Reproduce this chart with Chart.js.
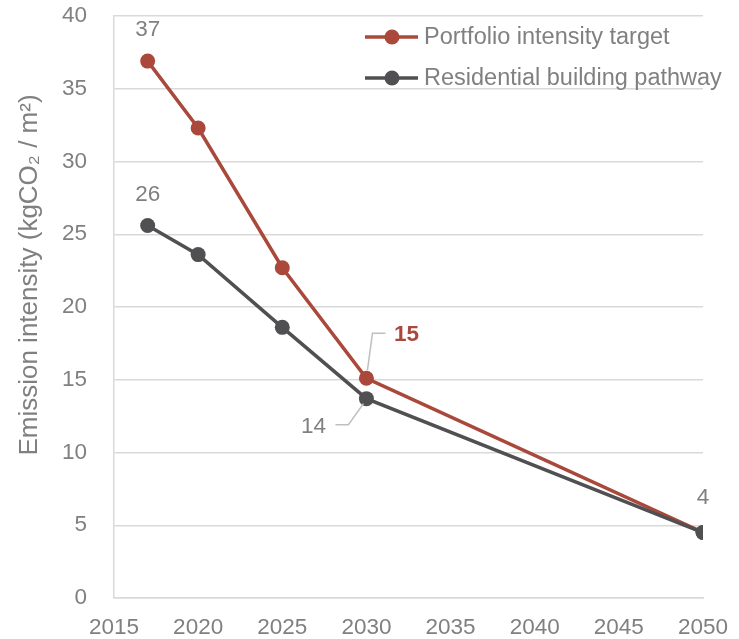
<!DOCTYPE html>
<html>
<head>
<meta charset="utf-8">
<script src="https://cdn.jsdelivr.net/npm/chart.js@4.4.0/dist/chart.umd.min.js"></script>
<style>
  html, body { margin: 0; padding: 0; background: #fff; }
  #wrap { width: 739px; height: 639px; }
</style>
</head>
<body>
<div id="wrap"><canvas id="emissionChart" width="739" height="639"></canvas></div>
<script>
// chart values
var years = [2017, 2020, 2025, 2030, 2050];
var portfolioTarget = [36.9, 32.3, 22.7, 15.1, 4.5];
var residentialPathway = [25.6, 23.6, 18.6, 13.7, 4.5];
var seriesNames = ["Portfolio intensity target", "Residential building pathway"];
var xTicks = [2015, 2020, 2025, 2030, 2035, 2040, 2045, 2050];
var yTicks = [0, 5, 10, 15, 20, 25, 30, 35, 40];
var yTitle = "Emission intensity (kgCO\u2082 / m\u00B2)";
// labels shown next to points: [series, point index, text]
var pointLabels = [
    [0, 0, "37"],
    [1, 0, "26"],
    [0, 3, "15"],
    [1, 3, "14"],
    [1, 4, "4"]
];

const redColor = "#A9483B";
const greyColor = "#505053";
const textColor = "#808080";
const font = "'Liberation Sans', Arial, sans-serif";

function toPoints(vals) {
    return years.map(function(y, i) { return {x: y, y: vals[i]}; });
}

// draws the value labels and the leader lines
const labelPlugin = {
    id: 'point_labels',
    afterDatasetsDraw: (chart) => {
        const {ctx} = chart;
        ctx.save();
        ctx.font = "22.5px " + font;
        ctx.textAlign = "center";
        ctx.textBaseline = "middle";
        ctx.strokeStyle = "#BFBFBF";
        ctx.lineWidth = 1.5;
        pointLabels.forEach(function(l) {
            var p = chart.getDatasetMeta(l[0]).data[l[1]];
            if (l[2] == "15") {
                ctx.beginPath();
                ctx.moveTo(p.x + 1, p.y - 8);
                ctx.lineTo(p.x + 6, p.y - 45);
                ctx.lineTo(p.x + 19, p.y - 45);
                ctx.stroke();
                ctx.fillStyle = redColor;
                ctx.font = "bold 22.5px " + font;
                ctx.fillText(l[2], p.x + 40, p.y - 43);
                ctx.font = "22.5px " + font;
            } else if (l[2] == "14") {
                ctx.beginPath();
                ctx.moveTo(p.x - 3, p.y + 5);
                ctx.lineTo(p.x - 18, p.y + 26);
                ctx.lineTo(p.x - 31, p.y + 26);
                ctx.stroke();
                ctx.fillStyle = textColor;
                ctx.fillText(l[2], p.x - 53, p.y + 28);
            } else {
                ctx.fillStyle = textColor;
                ctx.fillText(l[2], p.x, p.y - (l[2] == "4" ? 35 : 31));
            }
        });
        ctx.restore();
    }
};

// legend in the top right corner and the y axis title
const legendPlugin = {
    id: 'inside_legend',
    afterDraw: (chart) => {
        const {ctx} = chart;
        ctx.save();
        var colors = [redColor, greyColor];
        var rows = [37, 78];
        ctx.font = "23.5px " + font;
        ctx.textBaseline = "middle";
        ctx.textAlign = "left";
        for (var i = 0; i < 2; i++) {
            ctx.strokeStyle = colors[i];
            ctx.lineWidth = 3.5;
            ctx.beginPath();
            ctx.moveTo(365, rows[i]);
            ctx.lineTo(418, rows[i]);
            ctx.stroke();
            ctx.fillStyle = colors[i];
            ctx.beginPath();
            ctx.arc(392, rows[i], 7.5, 0, Math.PI * 2);
            ctx.fill();
            ctx.fillStyle = textColor;
            ctx.fillText(seriesNames[i], 424, rows[i] + 1);
        }
        // axis title
        ctx.translate(30, 275);
        ctx.rotate(-Math.PI / 2);
        ctx.textAlign = "center";
        ctx.font = "26px " + font;
        ctx.fillText(yTitle, 0, 0);
        ctx.restore();
    }
};

var canvas = document.getElementById("emissionChart");

new Chart(canvas, {
    type: 'line',
    plugins: [labelPlugin, legendPlugin],
    data: {
        datasets: [{
            label: seriesNames[0],
            data: toPoints(portfolioTarget),
            borderColor: redColor,
            backgroundColor: redColor,
            borderWidth: 3.5,
            pointRadius: 7.5,
            pointBorderWidth: 0,
            tension: 0,
            order: 2
        }, {
            label: seriesNames[1],
            data: toPoints(residentialPathway),
            borderColor: greyColor,
            backgroundColor: greyColor,
            borderWidth: 3.5,
            pointRadius: 7.5,
            pointBorderWidth: 0,
            tension: 0,
            order: 1   // grey drawn on top, like the 2050 point in the original
        }]
    },
    options: {
        responsive: false,
        animation: false,
        layout: { padding: { top: 16, right: 36, bottom: 0, left: 0 } },
        plugins: {
            legend: { display: false },
            tooltip: { enabled: false }
        },
        scales: {
            x: {
                type: 'linear',
                min: 2015,
                max: 2050,
                afterBuildTicks: function(axis) { axis.ticks = xTicks.map(function(v) { return {value: v}; }); },
                afterFit: function(axis) {
                    axis.height = 41;
                    axis.paddingLeft = 0;
                    axis.paddingRight = 0;
                },
                grid: { display: false, drawTicks: false },
                border: { color: "#D9D9D9", width: 1.5 },
                ticks: {
                    color: textColor,
                    font: { family: font, size: 22.5 },
                    padding: 16,
                    maxRotation: 0,
                    callback: function(v) { return String(v); }
                }
            },
            y: {
                min: 0,
                max: 40,
                afterBuildTicks: function(axis) { axis.ticks = yTicks.map(function(v) { return {value: v}; }); },
                afterFit: function(axis) {
                    axis.width = 114;
                    axis.paddingTop = 0;
                    axis.paddingBottom = 0;
                },
                grid: { color: "#D9D9D9", lineWidth: 1.5, drawTicks: false },
                border: { color: "#D9D9D9", width: 1.5 },
                ticks: {
                    color: textColor,
                    font: { family: font, size: 22.5 },
                    padding: 27
                }
            }
        }
    }
});
</script>
</body>
</html>
